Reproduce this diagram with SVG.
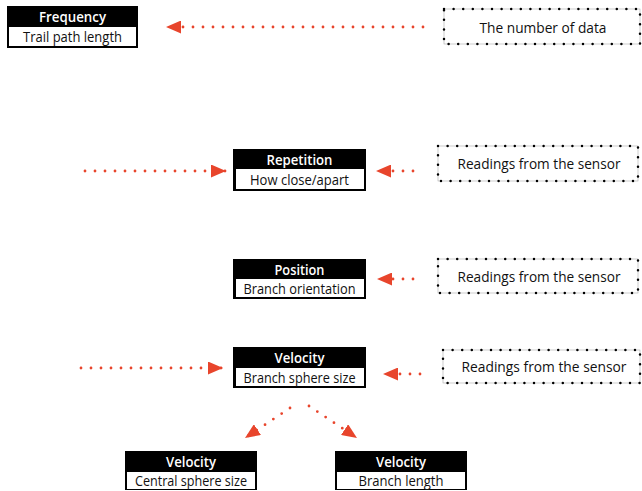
<svg xmlns="http://www.w3.org/2000/svg" width="642" height="491" viewBox="0 0 642 491">
<style>
.box{fill:#000}
.inner{fill:#fff}
.hd{font-family:"Open Sans","Noto Sans",sans-serif;font-size:14.5px;font-weight:600;fill:#fff;text-anchor:middle}
.sub{font-family:"Open Sans","Noto Sans",sans-serif;font-size:15px;fill:#111;text-anchor:middle}
.src{font-family:"Open Sans","Noto Sans",sans-serif;font-size:15px;fill:#111;text-anchor:middle}
.dbox{fill:#fff;stroke:#aaa;stroke-width:0.6}
.ddot{fill:none;stroke:#000;stroke-width:2.5;stroke-linecap:round;stroke-dasharray:0 9.6}
.conn{fill:none;stroke:#e8452c;stroke-width:2.8;stroke-linecap:round;stroke-dasharray:0 10;marker-end:url(#ah)}
</style>
<defs>
<marker id="ah" markerUnits="userSpaceOnUse" viewBox="0 0 15 13" refX="15" refY="6.5" markerWidth="15" markerHeight="13" orient="auto">
<path d="M0,0 L15,6.5 L0,13 Z" fill="#e8452c"/>
</marker>
</defs>
<g id="connectors">
<line class="conn" x1="423" y1="27" x2="166" y2="27"/>
<line class="conn" x1="85" y1="171" x2="226" y2="171"/>
<line class="conn" x1="413" y1="171" x2="376" y2="171"/>
<line class="conn" x1="413" y1="279" x2="377" y2="279"/>
<line class="conn" x1="81" y1="368" x2="223" y2="368"/>
<line class="conn" x1="420" y1="374" x2="383" y2="374"/>
<line class="conn" x1="290" y1="408" x2="245" y2="438"/>
<line class="conn" x1="309" y1="406" x2="357" y2="438"/>
</g>
<g id="frequency">
<rect class="box" x="7" y="6" width="131" height="42"/>
<rect class="inner" x="9" y="27" width="127" height="19"/>
<text class="hd" x="72.5" y="22" textLength="67" lengthAdjust="spacingAndGlyphs">Frequency</text>
<text class="sub" x="72.5" y="42" textLength="99" lengthAdjust="spacingAndGlyphs">Trail path length</text>
</g>
<g id="number-of-data">
<rect class="dbox" x="444" y="9" width="196" height="35"/>
<rect class="ddot" x="444" y="9" width="196" height="35"/>
<text class="src" x="543" y="32.5" textLength="127" lengthAdjust="spacingAndGlyphs">The number of data</text>
</g>
<g id="repetition">
<rect class="box" x="233" y="149" width="133" height="42"/>
<rect class="inner" x="236" y="169" width="128" height="20"/>
<text class="hd" x="299.5" y="165" textLength="66" lengthAdjust="spacingAndGlyphs">Repetition</text>
<text class="sub" x="299.5" y="185" textLength="99" lengthAdjust="spacingAndGlyphs">How close/apart</text>
</g>
<g id="sensor-1">
<rect class="dbox" x="438" y="146" width="200" height="35"/>
<rect class="ddot" x="438" y="146" width="200" height="35"/>
<text class="src" x="539" y="168.5" textLength="163" lengthAdjust="spacingAndGlyphs">Readings from the sensor</text>
</g>
<g id="position">
<rect class="box" x="233" y="259" width="133" height="40"/>
<rect class="inner" x="236" y="279" width="128" height="18"/>
<text class="hd" x="299.5" y="275" textLength="50" lengthAdjust="spacingAndGlyphs">Position</text>
<text class="sub" x="299.5" y="293.5" textLength="112" lengthAdjust="spacingAndGlyphs">Branch orientation</text>
</g>
<g id="sensor-2">
<rect class="dbox" x="438" y="259" width="200" height="34"/>
<rect class="ddot" x="438" y="259" width="200" height="34"/>
<text class="src" x="539" y="281.5" textLength="163" lengthAdjust="spacingAndGlyphs">Readings from the sensor</text>
</g>
<g id="velocity">
<rect class="box" x="233" y="347" width="133" height="41"/>
<rect class="inner" x="236" y="368" width="128" height="18"/>
<text class="hd" x="299.5" y="363" textLength="50" lengthAdjust="spacingAndGlyphs">Velocity</text>
<text class="sub" x="299.5" y="382.5" textLength="112" lengthAdjust="spacingAndGlyphs">Branch sphere size</text>
</g>
<g id="sensor-3">
<rect class="dbox" x="443" y="350" width="197" height="33"/>
<rect class="ddot" x="443" y="350" width="197" height="33"/>
<text class="src" x="544" y="371.5" textLength="165" lengthAdjust="spacingAndGlyphs">Readings from the sensor</text>
</g>
<g id="velocity-central">
<rect class="box" x="125" y="451" width="132" height="39"/>
<rect class="inner" x="127" y="472" width="128" height="17"/>
<text class="hd" x="191" y="467" textLength="50" lengthAdjust="spacingAndGlyphs">Velocity</text>
<text class="sub" x="191" y="486" textLength="112" lengthAdjust="spacingAndGlyphs">Central sphere size</text>
</g>
<g id="velocity-branch">
<rect class="box" x="335" y="451" width="132" height="39"/>
<rect class="inner" x="337" y="472" width="128" height="17"/>
<text class="hd" x="401" y="467" textLength="50" lengthAdjust="spacingAndGlyphs">Velocity</text>
<text class="sub" x="401" y="486" textLength="85" lengthAdjust="spacingAndGlyphs">Branch length</text>
</g>
</svg>
